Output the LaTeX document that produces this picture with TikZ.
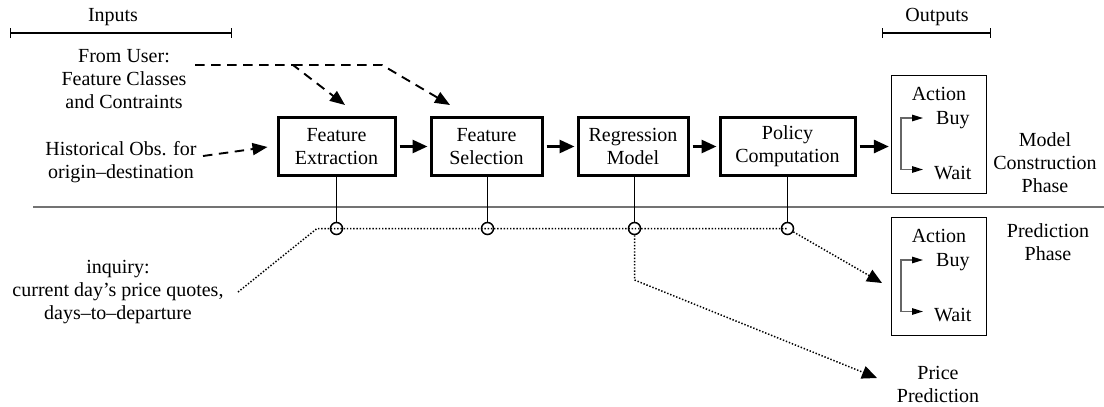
\documentclass[tikz,border=0pt]{standalone}
\usepackage{fontspec}
\setmainfont{Liberation Serif}
\usetikzlibrary{arrows.meta,calc}

\begin{document}
\begin{tikzpicture}[x=1pt,y=-1pt,
  every node/.style={font=\fontsize{20}{23}\selectfont, inner sep=0pt},
  stage/.style={draw, line width=3pt, minimum height=58pt, align=center},
  panel/.style={draw, line width=1.3pt, minimum width=95pt, minimum height=118pt},
  lbl/.style={align=center},
  flow/.style={line width=2.8pt, -{Triangle[length=15pt,width=13pt]}, shorten <=3pt, shorten >=2pt},
  userin/.style={line width=1.9pt, dash pattern=on 9.5pt off 6.5pt},
  userarrow/.style={userin, -{Triangle[length=15pt,width=12pt]}},
  query/.style={line width=1.5pt, dash pattern=on 1.4pt off 1.8pt},
  queryarrow/.style={query, -{Triangle[length=15pt,width=13pt]}},
  fork/.style={line width=1.3pt, draw=black!60, {Triangle[length=11pt,width=6.5pt,color=black]}-{Triangle[length=11pt,width=6.5pt,color=black]}},
  tap/.style={line width=1.8pt},
  joint/.style={circle, draw, line width=1.5pt, minimum size=12pt},
  span/.style={line width=1.3pt, {Bar[width=10pt]}-{Bar[width=10pt]}},
  divider/.style={line width=2pt, draw=black!55},
]
\useasboundingbox (0,0) rectangle (1104,407);

% column headers
\node (inputs) at (113,17) {Inputs};
\coordinate (inL) at (10,33);
\coordinate (inR) at (232,33);
\draw[span] (inL) -- (inR);
\node (outputs) at (937,17) {Outputs};
\coordinate (outL) at (882,33);
\coordinate (outR) at (991,33);
\draw[span] (outL) -- (outR);

% inputs
\node[lbl] (user) at (124,79) {From User:\\Feature Classes\\and Contraints};
\node[lbl] (hist) at (121,162) {Historical Obs. for\\origin--destination};

% processing stages
\node[stage, minimum width=117pt] (fe) at (336.5,146.5) {Feature\\Extraction};
\node[stage, minimum width=111pt] (fs) at (486.5,146.5) {Feature\\Selection};
\node[stage, minimum width=110pt] (rm) at (633,146.5) {Regression\\Model};
\node[stage, minimum width=135pt] (pc) at (787.5,146.5) {Policy\\Computation};

% action panels
\foreach \p/\yc in {A/134.5, B/276.5} {
  \node[panel] (panel\p) at (939,\yc) {};
  \node (act\p) at (939,{\yc-41}) {Action};
  \node[anchor=base west] (buy\p) at (936,{\yc-10}) {Buy};
  \node[anchor=base west] (wait\p) at (934,{\yc+45}) {Wait};
  \coordinate (ft\p) at (901,{\yc-16.5});
  \coordinate (fb\p) at (901,{\yc+35});
  \coordinate (tb\p) at (923,{\yc-16.5});
  \coordinate (tw\p) at (923,{\yc+35});
  \draw[fork] (tb\p) -- (ft\p) -- (fb\p) -- (tw\p);
}

% phase labels
\node[lbl] (mcp) at (1045,163) {Model\\Construction\\Phase};
\node[lbl] (pph) at (1048,242) {Prediction\\Phase};
\node[lbl] (price) at (938,384.5) {Price\\Prediction};
\node[lbl] (inq) at (118,292.5) {inquiry:\\current day’s price quotes,\\days--to--departure};

% main flow
\draw[flow] (fe.east) -- (fs.west);
\draw[flow] (fs.east) -- (rm.west);
\draw[flow] (rm.east) -- (pc.west);
\draw[flow] (pc.east) -- (pc.east -| panelA.west);

% user and historical inputs
\coordinate (ustart) at (195,65);
\coordinate (ufork) at (293,65);
\coordinate (ubend) at (382,65);
\draw[userarrow] (ustart) -- (ufork) -- ($(fe.north)+(8.5,-11)$);
\draw[userarrow] (ufork) -- (ubend) -- ($(fs.north)+(-36.5,-11)$);
\coordinate (hstart) at (203,156);
\draw[userarrow] (hstart) -- ($(fe.west)+(-9,0.5)$);

% phase divider
\coordinate (divL) at (33,207);
\coordinate (divR) at (1104,207);
\draw[divider] (divL) -- (divR);

% prediction taps
\node[joint] (c1) at (336.5,228.5) {};
\node[joint] (c2) at (487.5,228.5) {};
\node[joint] (c3) at (634.5,228.5) {};
\node[joint] (c4) at (787.5,228.5) {};
\draw[tap] (fe.south -| c1) -- (c1.north);
\draw[tap] (fs.south -| c2) -- (c2.north);
\draw[tap] (rm.south -| c3) -- (c3.north);
\draw[tap] (pc.south -| c4) -- (c4.north);

% inquiry path
\coordinate (qstart) at (238,292);
\coordinate (qbend) at (317,228.5);
\draw[query] (qstart) -- (qbend) -- (c4.center);
\coordinate (tipB) at (882,283);
\draw[queryarrow] (c4) -- (tipB);
\coordinate (qdrop) at (634.5,280);
\coordinate (tipP) at (877,378);
\draw[queryarrow] (c3) -- (qdrop) -- (tipP);
\end{tikzpicture}
\end{document}
